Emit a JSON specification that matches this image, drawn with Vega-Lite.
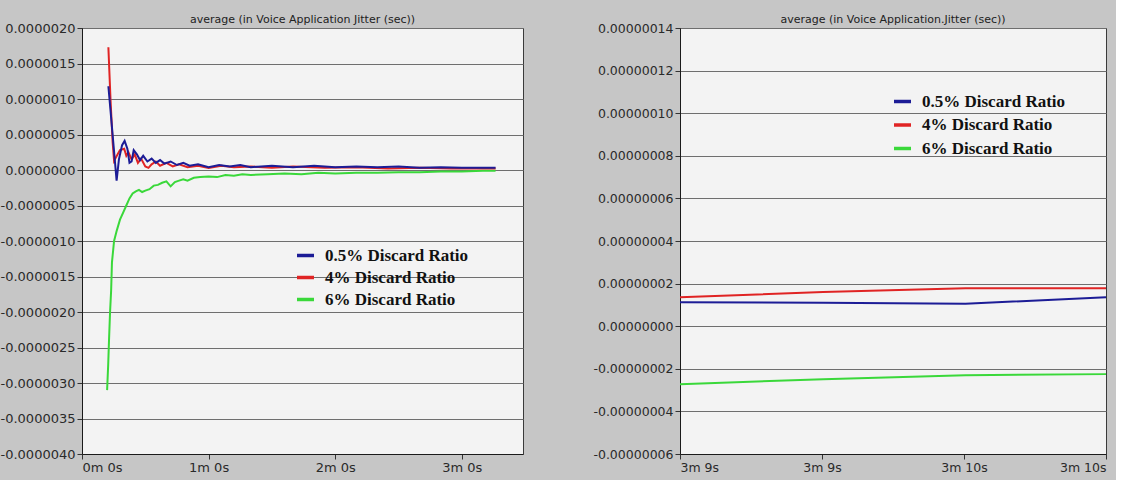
{
  "$schema": "https://vega.github.io/schema/vega-lite/v6.json",
  "background": "#c6c6c6",
  "padding": {"left": -1, "top": 13, "right": 5, "bottom": 5},
  "spacing": 68,
  "config": {
    "view": {"fill": "#f3f3f3", "stroke": "#3a3a3a", "strokeWidth": 1},
    "axis": {"labelFont": "DejaVu Sans", "labelFontSize": 13, "labelColor": "#2a2a2a", "domainColor": "#1a1a1a", "tickColor": "#333333", "tickSize": 5, "gridColor": "#6e6e6e", "gridWidth": 1, "title": null, "labelPadding": 2},
    "title": {"font": "DejaVu Sans", "fontSize": 11, "fontWeight": "normal", "color": "#222222"},
    "legend": {"labelFont": "Liberation Serif", "labelFontSize": 17, "labelFontWeight": "bold", "labelColor": "#111111", "symbolType": "stroke", "symbolStrokeWidth": 3.5, "symbolSize": 289, "labelOffset": 9, "padding": 0, "title": null}
  },
  "datasets": {
    "left": [
      {"series": "6% Discard Ratio", "t": 11.9, "jitter": -3.1e-6},
      {"series": "6% Discard Ratio", "t": 12.4, "jitter": -2.75e-6},
      {"series": "6% Discard Ratio", "t": 12.8, "jitter": -2.4e-6},
      {"series": "6% Discard Ratio", "t": 13.3, "jitter": -2.0e-6},
      {"series": "6% Discard Ratio", "t": 13.8, "jitter": -1.7e-6},
      {"series": "6% Discard Ratio", "t": 14.2, "jitter": -1.3e-6},
      {"series": "6% Discard Ratio", "t": 15.2, "jitter": -1.0e-6},
      {"series": "6% Discard Ratio", "t": 16.5, "jitter": -0.85e-6},
      {"series": "6% Discard Ratio", "t": 18.0, "jitter": -0.7e-6},
      {"series": "6% Discard Ratio", "t": 19.5, "jitter": -0.6e-6},
      {"series": "6% Discard Ratio", "t": 21.0, "jitter": -0.5e-6},
      {"series": "6% Discard Ratio", "t": 22.5, "jitter": -0.4e-6},
      {"series": "6% Discard Ratio", "t": 24.0, "jitter": -0.33e-6},
      {"series": "6% Discard Ratio", "t": 25.5, "jitter": -0.3e-6},
      {"series": "6% Discard Ratio", "t": 27.0, "jitter": -0.28e-6},
      {"series": "6% Discard Ratio", "t": 28.5, "jitter": -0.31e-6},
      {"series": "6% Discard Ratio", "t": 30.0, "jitter": -0.29e-6},
      {"series": "6% Discard Ratio", "t": 32.0, "jitter": -0.27e-6},
      {"series": "6% Discard Ratio", "t": 34.0, "jitter": -0.22e-6},
      {"series": "6% Discard Ratio", "t": 36.0, "jitter": -0.21e-6},
      {"series": "6% Discard Ratio", "t": 38.0, "jitter": -0.18e-6},
      {"series": "6% Discard Ratio", "t": 40.0, "jitter": -0.16e-6},
      {"series": "6% Discard Ratio", "t": 42.0, "jitter": -0.23e-6},
      {"series": "6% Discard Ratio", "t": 44.0, "jitter": -0.17e-6},
      {"series": "6% Discard Ratio", "t": 46.0, "jitter": -0.15e-6},
      {"series": "6% Discard Ratio", "t": 48.0, "jitter": -0.13e-6},
      {"series": "6% Discard Ratio", "t": 50.0, "jitter": -0.15e-6},
      {"series": "6% Discard Ratio", "t": 53.0, "jitter": -0.11e-6},
      {"series": "6% Discard Ratio", "t": 56.0, "jitter": -0.1e-6},
      {"series": "6% Discard Ratio", "t": 60.0, "jitter": -0.09e-6},
      {"series": "6% Discard Ratio", "t": 64.0, "jitter": -0.1e-6},
      {"series": "6% Discard Ratio", "t": 68.0, "jitter": -0.07e-6},
      {"series": "6% Discard Ratio", "t": 72.0, "jitter": -0.08e-6},
      {"series": "6% Discard Ratio", "t": 76.0, "jitter": -0.06e-6},
      {"series": "6% Discard Ratio", "t": 80.0, "jitter": -0.07e-6},
      {"series": "6% Discard Ratio", "t": 88.0, "jitter": -0.06e-6},
      {"series": "6% Discard Ratio", "t": 96.0, "jitter": -0.05e-6},
      {"series": "6% Discard Ratio", "t": 104.0, "jitter": -0.06e-6},
      {"series": "6% Discard Ratio", "t": 112.0, "jitter": -0.04e-6},
      {"series": "6% Discard Ratio", "t": 120.0, "jitter": -0.05e-6},
      {"series": "6% Discard Ratio", "t": 130.0, "jitter": -0.04e-6},
      {"series": "6% Discard Ratio", "t": 140.0, "jitter": -0.04e-6},
      {"series": "6% Discard Ratio", "t": 150.0, "jitter": -0.03e-6},
      {"series": "6% Discard Ratio", "t": 160.0, "jitter": -0.03e-6},
      {"series": "6% Discard Ratio", "t": 170.0, "jitter": -0.02e-6},
      {"series": "6% Discard Ratio", "t": 180.0, "jitter": -0.02e-6},
      {"series": "6% Discard Ratio", "t": 190.0, "jitter": -0.01e-6},
      {"series": "6% Discard Ratio", "t": 196.0, "jitter": -0.01e-6},
      {"series": "4% Discard Ratio", "t": 12.5, "jitter": 1.73e-6},
      {"series": "4% Discard Ratio", "t": 13.5, "jitter": 1.0e-6},
      {"series": "4% Discard Ratio", "t": 14.5, "jitter": 0.4e-6},
      {"series": "4% Discard Ratio", "t": 15.2, "jitter": 0.13e-6},
      {"series": "4% Discard Ratio", "t": 16.5, "jitter": 0.2e-6},
      {"series": "4% Discard Ratio", "t": 18.0, "jitter": 0.28e-6},
      {"series": "4% Discard Ratio", "t": 20.0, "jitter": 0.3e-6},
      {"series": "4% Discard Ratio", "t": 21.0, "jitter": 0.2e-6},
      {"series": "4% Discard Ratio", "t": 22.0, "jitter": 0.25e-6},
      {"series": "4% Discard Ratio", "t": 23.5, "jitter": 0.15e-6},
      {"series": "4% Discard Ratio", "t": 25.0, "jitter": 0.22e-6},
      {"series": "4% Discard Ratio", "t": 26.5, "jitter": 0.1e-6},
      {"series": "4% Discard Ratio", "t": 28.0, "jitter": 0.16e-6},
      {"series": "4% Discard Ratio", "t": 30.0, "jitter": 0.05e-6},
      {"series": "4% Discard Ratio", "t": 31.5, "jitter": 0.03e-6},
      {"series": "4% Discard Ratio", "t": 33.0, "jitter": 0.08e-6},
      {"series": "4% Discard Ratio", "t": 35.0, "jitter": 0.12e-6},
      {"series": "4% Discard Ratio", "t": 37.0, "jitter": 0.06e-6},
      {"series": "4% Discard Ratio", "t": 40.0, "jitter": 0.1e-6},
      {"series": "4% Discard Ratio", "t": 43.0, "jitter": 0.05e-6},
      {"series": "4% Discard Ratio", "t": 46.0, "jitter": 0.08e-6},
      {"series": "4% Discard Ratio", "t": 50.0, "jitter": 0.04e-6},
      {"series": "4% Discard Ratio", "t": 55.0, "jitter": 0.06e-6},
      {"series": "4% Discard Ratio", "t": 60.0, "jitter": 0.03e-6},
      {"series": "4% Discard Ratio", "t": 66.0, "jitter": 0.06e-6},
      {"series": "4% Discard Ratio", "t": 72.0, "jitter": 0.04e-6},
      {"series": "4% Discard Ratio", "t": 80.0, "jitter": 0.05e-6},
      {"series": "4% Discard Ratio", "t": 90.0, "jitter": 0.03e-6},
      {"series": "4% Discard Ratio", "t": 100.0, "jitter": 0.05e-6},
      {"series": "4% Discard Ratio", "t": 115.0, "jitter": 0.03e-6},
      {"series": "4% Discard Ratio", "t": 130.0, "jitter": 0.04e-6},
      {"series": "4% Discard Ratio", "t": 145.0, "jitter": 0.02e-6},
      {"series": "4% Discard Ratio", "t": 160.0, "jitter": 0.03e-6},
      {"series": "4% Discard Ratio", "t": 175.0, "jitter": 0.02e-6},
      {"series": "4% Discard Ratio", "t": 190.0, "jitter": 0.02e-6},
      {"series": "4% Discard Ratio", "t": 196.0, "jitter": 0.02e-6},
      {"series": "0.5% Discard Ratio", "t": 12.5, "jitter": 1.18e-6},
      {"series": "0.5% Discard Ratio", "t": 14.5, "jitter": 0.5e-6},
      {"series": "0.5% Discard Ratio", "t": 16.4, "jitter": -0.15e-6},
      {"series": "0.5% Discard Ratio", "t": 17.5, "jitter": 0.15e-6},
      {"series": "0.5% Discard Ratio", "t": 19.0, "jitter": 0.35e-6},
      {"series": "0.5% Discard Ratio", "t": 20.2, "jitter": 0.41e-6},
      {"series": "0.5% Discard Ratio", "t": 21.5, "jitter": 0.3e-6},
      {"series": "0.5% Discard Ratio", "t": 22.5, "jitter": 0.1e-6},
      {"series": "0.5% Discard Ratio", "t": 23.5, "jitter": 0.12e-6},
      {"series": "0.5% Discard Ratio", "t": 24.5, "jitter": 0.28e-6},
      {"series": "0.5% Discard Ratio", "t": 26.0, "jitter": 0.22e-6},
      {"series": "0.5% Discard Ratio", "t": 27.5, "jitter": 0.14e-6},
      {"series": "0.5% Discard Ratio", "t": 29.0, "jitter": 0.2e-6},
      {"series": "0.5% Discard Ratio", "t": 31.0, "jitter": 0.12e-6},
      {"series": "0.5% Discard Ratio", "t": 33.0, "jitter": 0.16e-6},
      {"series": "0.5% Discard Ratio", "t": 35.0, "jitter": 0.1e-6},
      {"series": "0.5% Discard Ratio", "t": 37.0, "jitter": 0.14e-6},
      {"series": "0.5% Discard Ratio", "t": 39.0, "jitter": 0.09e-6},
      {"series": "0.5% Discard Ratio", "t": 42.0, "jitter": 0.12e-6},
      {"series": "0.5% Discard Ratio", "t": 45.0, "jitter": 0.07e-6},
      {"series": "0.5% Discard Ratio", "t": 48.0, "jitter": 0.1e-6},
      {"series": "0.5% Discard Ratio", "t": 51.0, "jitter": 0.06e-6},
      {"series": "0.5% Discard Ratio", "t": 55.0, "jitter": 0.08e-6},
      {"series": "0.5% Discard Ratio", "t": 60.0, "jitter": 0.04e-6},
      {"series": "0.5% Discard Ratio", "t": 65.0, "jitter": 0.07e-6},
      {"series": "0.5% Discard Ratio", "t": 70.0, "jitter": 0.05e-6},
      {"series": "0.5% Discard Ratio", "t": 75.0, "jitter": 0.07e-6},
      {"series": "0.5% Discard Ratio", "t": 80.0, "jitter": 0.04e-6},
      {"series": "0.5% Discard Ratio", "t": 90.0, "jitter": 0.06e-6},
      {"series": "0.5% Discard Ratio", "t": 100.0, "jitter": 0.04e-6},
      {"series": "0.5% Discard Ratio", "t": 110.0, "jitter": 0.06e-6},
      {"series": "0.5% Discard Ratio", "t": 120.0, "jitter": 0.04e-6},
      {"series": "0.5% Discard Ratio", "t": 130.0, "jitter": 0.05e-6},
      {"series": "0.5% Discard Ratio", "t": 140.0, "jitter": 0.04e-6},
      {"series": "0.5% Discard Ratio", "t": 150.0, "jitter": 0.05e-6},
      {"series": "0.5% Discard Ratio", "t": 160.0, "jitter": 0.03e-6},
      {"series": "0.5% Discard Ratio", "t": 170.0, "jitter": 0.04e-6},
      {"series": "0.5% Discard Ratio", "t": 180.0, "jitter": 0.03e-6},
      {"series": "0.5% Discard Ratio", "t": 190.0, "jitter": 0.03e-6},
      {"series": "0.5% Discard Ratio", "t": 196.0, "jitter": 0.03e-6}
    ],
    "right": [
      {"series": "6% Discard Ratio", "t": 189.0, "jitter": -2.72e-8},
      {"series": "6% Discard Ratio", "t": 189.336, "jitter": -2.49e-8},
      {"series": "6% Discard Ratio", "t": 189.67, "jitter": -2.3e-8},
      {"series": "6% Discard Ratio", "t": 190.0, "jitter": -2.25e-8},
      {"series": "4% Discard Ratio", "t": 189.0, "jitter": 1.36e-8},
      {"series": "4% Discard Ratio", "t": 189.336, "jitter": 1.6e-8},
      {"series": "4% Discard Ratio", "t": 189.67, "jitter": 1.78e-8},
      {"series": "4% Discard Ratio", "t": 190.0, "jitter": 1.78e-8},
      {"series": "0.5% Discard Ratio", "t": 189.0, "jitter": 1.13e-8},
      {"series": "0.5% Discard Ratio", "t": 189.336, "jitter": 1.1e-8},
      {"series": "0.5% Discard Ratio", "t": 189.67, "jitter": 1.05e-8},
      {"series": "0.5% Discard Ratio", "t": 190.0, "jitter": 1.36e-8}
    ]
  },
  "resolve": {"scale": {"color": "independent", "x": "independent", "y": "independent"}, "legend": {"color": "independent"}},
  "hconcat": [
    {
      "width": 441,
      "height": 426,
      "title": {"text": "average (in Voice Application Jitter (sec))", "offset": -3},
      "data": {"name": "left"},
      "mark": {"type": "line", "strokeWidth": 2},
      "encoding": {
        "x": {"field": "t", "type": "quantitative", "scale": {"domain": [0, 209], "nice": false, "zero": false},
              "axis": {"values": [0, 60, 120, 180], "grid": false, "labelExpr": "floor(datum.value/60) + 'm ' + (datum.value % 60) + 's'"}},
        "y": {"field": "jitter", "type": "quantitative", "scale": {"domain": [-0.000004, 0.000002], "nice": false},
              "axis": {"values": [-0.000004, -0.0000035, -0.000003, -0.0000025, -0.000002, -0.0000015, -0.000001, -0.0000005, 0, 0.0000005, 0.000001, 0.0000015, 0.000002],
                       "labelExpr": "replace(format(datum.value, '.7f'), '\u2212', '-')"}},
        "color": {"field": "series", "type": "nominal",
                  "scale": {"domain": ["0.5% Discard Ratio", "4% Discard Ratio", "6% Discard Ratio"], "range": ["#1c1c96", "#e02424", "#3ad83a"]},
                  "legend": {"orient": "none", "legendX": 213, "legendY": 217, "rowPadding": 3}}
      }
    },
    {
      "width": 426,
      "height": 426,
      "title": {"text": "average (in Voice Application.Jitter (sec))", "offset": -3},
      "data": {"name": "right"},
      "mark": {"type": "line", "strokeWidth": 2},
      "encoding": {
        "x": {"field": "t", "type": "quantitative", "scale": {"domain": [189, 190], "nice": false, "zero": false},
              "axis": {"values": [189, 189.3333333, 189.6666667, 190], "grid": false, "labelFontSize": 12.5, "labelExpr": "floor(round(datum.value)/60) + 'm ' + (round(datum.value) % 60) + 's'"}},
        "y": {"field": "jitter", "type": "quantitative", "scale": {"domain": [-0.00000006, 0.00000014], "nice": false},
              "axis": {"values": [-0.00000006, -0.00000004, -0.00000002, 0, 0.00000002, 0.00000004, 0.00000006, 0.00000008, 0.0000001, 0.00000012, 0.00000014],
                       "labelFontSize": 12.5,
                       "labelExpr": "replace(format(datum.value, '.8f'), '\u2212', '-')"}},
        "color": {"field": "series", "type": "nominal",
                  "scale": {"domain": ["0.5% Discard Ratio", "4% Discard Ratio", "6% Discard Ratio"], "range": ["#1c1c96", "#e02424", "#3ad83a"]},
                  "legend": {"orient": "none", "legendX": 212, "legendY": 63, "rowPadding": 4.5}}
      }
    }
  ]
}
